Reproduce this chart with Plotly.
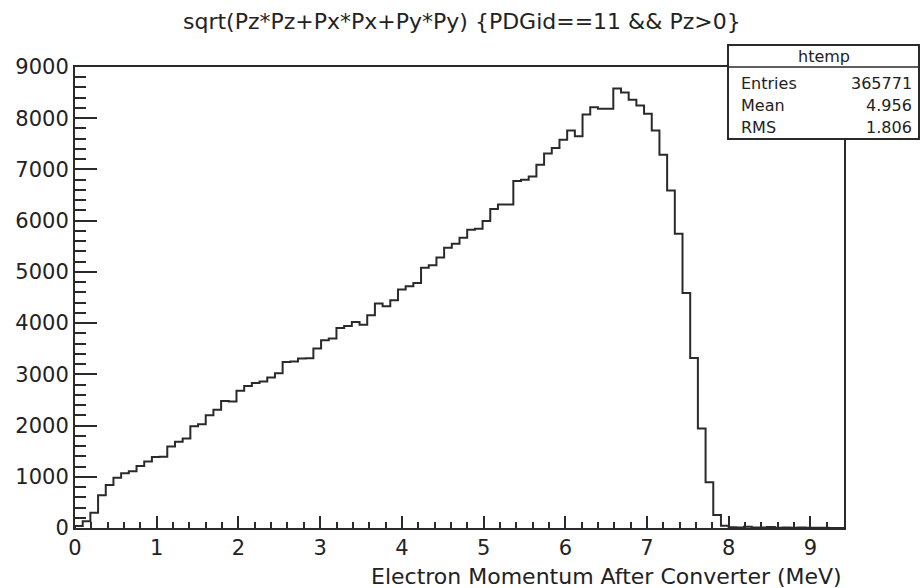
import numpy as np
import plotly.graph_objects as go

# ---- data ----
x_min = 0.0
x_max = 9.41
counts = [
    40, 130, 300, 640, 840, 980, 1070, 1110, 1210, 1300,
    1385, 1390, 1590, 1685, 1745, 1985, 2025, 2200, 2310, 2480,
    2470, 2680, 2770, 2830, 2860, 2940, 3020, 3243, 3250, 3308,
    3315, 3504, 3666, 3700, 3906, 3945, 4020, 3970, 4153, 4381,
    4329, 4446, 4654, 4719, 4784, 5083, 5129, 5280, 5470, 5551,
    5668, 5824, 5844, 5993, 6227, 6318, 6318, 6773, 6799, 6864,
    7090, 7310, 7420, 7579, 7760, 7650, 8073, 8216, 8184, 8184,
    8580, 8500, 8360, 8250, 8086, 7761, 7287, 6591, 5746, 4589,
    3321, 1944, 891, 254, 45, 15, 10, 25, 8, 12,
    20, 6, 10, 5, 8, 4, 3, 5, 2, 0,
]
x_ticks = [0, 1, 2, 3, 4, 5, 6, 7, 8, 9]
y_ticks = [0, 1000, 2000, 3000, 4000, 5000, 6000, 7000, 8000, 9000]
stat_names = ["Entries", "Mean", "RMS"]
stat_values = ["365771", "4.956", "1.806"]
hist_name = "htemp"
title_text = "sqrt(Pz*Pz+Px*Px+Py*Py) {PDGid==11 && Pz>0}"
x_title = "Electron Momentum After Converter (MeV)"

# ---- build step outline ----
edges = np.linspace(x_min, x_max, len(counts) + 1)
xs = [edges[0]] + list(edges[:-1]) + [edges[-1]]
ys = [0] + list(counts) + [counts[-1]]

FONT = "DejaVu Sans"
INK = "#2a2a2a"

fig = go.Figure()
fig.add_trace(go.Scatter(
    x=xs, y=ys, mode="lines", line=dict(shape="hv", color=INK, width=2),
    hoverinfo="skip", showlegend=False,
))

fig.update_layout(
    width=922, height=588,
    margin=dict(l=75, r=78, t=67, b=60),
    paper_bgcolor="white", plot_bgcolor="white",
    font=dict(family=FONT, color="#222", size=21),
    showlegend=False,
)
fig.update_xaxes(
    range=[x_min, x_max], tickmode="array", tickvals=x_ticks,
    ticks="inside", ticklen=12, tickwidth=2, tickcolor=INK,
    minor=dict(ticks="inside", ticklen=6, tickwidth=1.5, tickcolor=INK, dtick=0.2, tick0=0),
    showline=True, mirror=True, linewidth=2, linecolor=INK,
    showgrid=False, zeroline=False, tickfont=dict(size=21),
)
fig.update_yaxes(
    range=[0, 9000], tickmode="array", tickvals=y_ticks,
    ticks="inside", ticklen=22, tickwidth=2, tickcolor=INK,
    minor=dict(ticks="inside", ticklen=11, tickwidth=1.5, tickcolor=INK, dtick=200, tick0=0),
    showline=True, mirror=True, linewidth=2, linecolor=INK,
    showgrid=False, zeroline=False, tickfont=dict(size=21),
)

def px_to_paper_x(px):
    return (px - 75) / 769.0

def px_to_paper_y(py):
    return (528 - py) / 461.0

# stats box
bx0, bx1 = px_to_paper_x(728), px_to_paper_x(919)
by0, by1 = px_to_paper_y(139), px_to_paper_y(45)
bdiv = px_to_paper_y(67)
fig.add_shape(type="rect", xref="paper", yref="paper", x0=bx0, x1=bx1, y0=by0, y1=by1,
              line=dict(color=INK, width=2), fillcolor="white", layer="above")
fig.add_shape(type="line", xref="paper", yref="paper", x0=bx0, x1=bx1, y0=bdiv, y1=bdiv,
              line=dict(color=INK, width=1.5), layer="above")

fig.add_annotation(x=(bx0 + bx1) / 2, y=px_to_paper_y(57), xref="paper", yref="paper",
                   text=hist_name, showarrow=False, xanchor="center", yanchor="middle",
                   font=dict(size=16, family=FONT, color="#222"))
row_y = [83, 105, 127]
for name, val, ry in zip(stat_names, stat_values, row_y):
    fig.add_annotation(x=px_to_paper_x(739), y=px_to_paper_y(ry), xref="paper", yref="paper",
                       text=name, showarrow=False, xanchor="left", yanchor="middle",
                       font=dict(size=16, family=FONT, color="#222"))
    fig.add_annotation(x=px_to_paper_x(914), y=px_to_paper_y(ry), xref="paper", yref="paper",
                       text=val, showarrow=False, xanchor="right", yanchor="middle",
                       font=dict(size=16, family=FONT, color="#222"))

# title
fig.add_annotation(x=px_to_paper_x(462), y=px_to_paper_y(22), xref="paper", yref="paper",
                   text=title_text, showarrow=False, xanchor="center", yanchor="middle",
                   font=dict(size=22, family=FONT, color="#222"))
# x-axis title
fig.add_annotation(x=1.0, y=px_to_paper_y(576), xref="paper", yref="paper",
                   text=x_title, showarrow=False, xanchor="right", yanchor="middle",
                   font=dict(size=22, family=FONT, color="#222"))

fig.write_html("out.html", config={"displayModeBar": False},
               post_script="document.body.style.margin='0';document.body.style.overflow='hidden';")
